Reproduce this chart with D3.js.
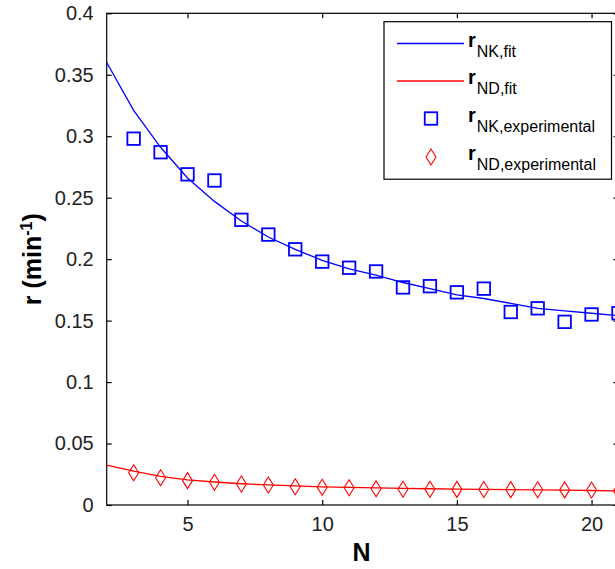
<!DOCTYPE html>
<html>
<head>
<meta charset="utf-8">
<script src="https://cdn.jsdelivr.net/npm/d3@7"></script>
<style>
  html, body { margin: 0; padding: 0; background: #fff; }
  svg { display: block; }
  text { font-family: "Liberation Sans", Arial, sans-serif; }
</style>
</head>
<body>
<svg id="chart" width="615" height="569"></svg>
<script>
// ---- data ----
const fitN = [2,3,4,5,6,7,8,9,10,11,12,13,14,15,16,17,18,19,20,21];
const nkFit = [0.360,0.321,0.291,0.266,0.247,0.231,0.218,0.208,0.199,0.192,0.187,0.181,0.176,0.171,0.168,0.164,0.160,0.158,0.156,0.154];
const ndFit = [0.0325,0.0275,0.0232,0.0205,0.0187,0.0173,0.0163,0.0155,0.0148,0.0143,0.0139,0.0135,0.0132,0.0129,0.0127,0.0125,0.0123,0.0121,0.0118,0.0115];
const expN = [3,4,5,6,7,8,9,10,11,12,13,14,15,16,17,18,19,20,21];
const nkExp = [0.298,0.287,0.269,0.264,0.232,0.220,0.208,0.198,0.193,0.190,0.177,0.178,0.173,0.176,0.157,0.160,0.149,0.155,0.156];
const ndExp = [0.0263,0.0222,0.0198,0.0185,0.0171,0.0163,0.0149,0.0144,0.0141,0.0132,0.0128,0.0128,0.0127,0.0126,0.0125,0.0124,0.0123,0.0122,0.0115];
const xTicks = [5,10,15,20];
const yTicks = [0,0.05,0.1,0.15,0.2,0.25,0.3,0.35,0.4];
const yTickLabels = ["0","0.05","0.1","0.15","0.2","0.25","0.3","0.35","0.4"];
const legendLabels = [
  {main:"r", sub:"NK,fit", type:"line", color:"#0000ff"},
  {main:"r", sub:"ND,fit", type:"line", color:"#ff0000"},
  {main:"r", sub:"NK,experimental", type:"square", color:"#0000ff"},
  {main:"r", sub:"ND,experimental", type:"diamond", color:"#ff0000"}
];

// ---- layout ----
const L = 106.7, R = 618.5, T = 13.3, B = 505;
const svg = d3.select("#chart");
const x = d3.scaleLinear().domain([2,21]).range([L,R]);
const y = d3.scaleLinear().domain([0,0.4]).range([B,T]);

// frame
svg.append("rect").attr("x",L).attr("y",T).attr("width",R-L).attr("height",B-T)
  .attr("fill","#fff").attr("stroke","#000").attr("stroke-width",1.2);

// axes (inward ticks)
const fmtY = d => yTickLabels[yTicks.indexOf(d)];
const axStyle = g => {
  g.select(".domain").remove();
  g.selectAll("line").attr("stroke","#000").attr("stroke-width",1.2);
  g.selectAll("text").attr("font-size","20px").attr("fill","#222").attr("font-family","'Liberation Sans', Arial, sans-serif");
};
svg.append("g").attr("transform",`translate(${L},0)`)
  .call(d3.axisLeft(y).tickValues(yTicks).tickFormat(fmtY).tickSizeInner(-5).tickSizeOuter(0).tickPadding(13))
  .call(axStyle);
svg.append("g").attr("transform",`translate(${R},0)`)
  .call(d3.axisRight(y).tickValues(yTicks).tickFormat("").tickSizeInner(-5).tickSizeOuter(0))
  .call(axStyle);
svg.append("g").attr("transform",`translate(0,${B})`)
  .call(d3.axisBottom(x).tickValues(xTicks).tickFormat(d3.format("d")).tickSizeInner(-5).tickSizeOuter(0).tickPadding(12))
  .call(axStyle);
svg.append("g").attr("transform",`translate(0,${T})`)
  .call(d3.axisTop(x).tickValues(xTicks).tickFormat("").tickSizeInner(-5).tickSizeOuter(0))
  .call(axStyle);

// axis labels
svg.append("text").attr("x",(L+R)/2 - 1).attr("y",561).attr("text-anchor","middle")
  .attr("font-size","25px").attr("font-weight","bold").text("N");
const yl = svg.append("text").attr("transform",`translate(41,${(T+B)/2}) rotate(-90)`)
  .attr("text-anchor","middle").attr("font-size","25px").attr("font-weight","bold");
yl.append("tspan").text("r (min");
yl.append("tspan").attr("dy",-9).attr("font-size","16px").text("-1");
yl.append("tspan").attr("dy",9).text(")");

// plot content
const plot = svg.append("g");
const line = d3.line().x((d,i)=>x(fitN[i])).y(d=>y(d));
plot.append("path").datum(nkFit).attr("d",line).attr("fill","none").attr("stroke","#0000ff").attr("stroke-width",1.3);
plot.append("path").datum(ndFit).attr("d",line).attr("fill","none").attr("stroke","#ff0000").attr("stroke-width",1.3);

const sq = 12.5;
plot.selectAll(".sq").data(nkExp).enter().append("rect")
  .attr("x",(d,i)=>x(expN[i])-sq/2).attr("y",d=>y(d)-sq/2)
  .attr("width",sq).attr("height",sq).attr("fill","none").attr("stroke","#0000ff").attr("stroke-width",1.8);
const diamond = (cx,cy) => `M${cx},${cy-8}L${cx+5},${cy}L${cx},${cy+8}L${cx-5},${cy}Z`;
plot.selectAll(".dm").data(ndExp).enter().append("path")
  .attr("d",(d,i)=>diamond(x(expN[i]),y(d))).attr("fill","none").attr("stroke","#ff0000").attr("stroke-width",1.1);

// legend
const lg = svg.append("g");
lg.append("rect").attr("x",384).attr("y",21.7).attr("width",227.5).attr("height",157.5)
  .attr("fill","#fff").attr("stroke","#000").attr("stroke-width",1.2);
const rowY = [43.5,81,118.5,157];
legendLabels.forEach((d,i)=>{
  const cy = rowY[i];
  if (d.type==="line") {
    lg.append("line").attr("x1",397).attr("x2",464).attr("y1",cy).attr("y2",cy)
      .attr("stroke",d.color).attr("stroke-width",1.3);
  } else if (d.type==="square") {
    lg.append("rect").attr("x",431-sq/2).attr("y",cy-sq/2).attr("width",sq).attr("height",sq)
      .attr("fill","none").attr("stroke",d.color).attr("stroke-width",1.8);
  } else {
    lg.append("path").attr("d",diamond(431,cy)).attr("fill","none").attr("stroke",d.color).attr("stroke-width",1.1);
  }
  const t = lg.append("text").attr("x",468).attr("y",cy+3).attr("font-size","20px").attr("fill","#000");
  t.append("tspan").attr("font-weight","bold").text(d.main);
  t.append("tspan").attr("dy",10).attr("dx",1).attr("font-size","16px").text(d.sub);
});
</script>
</body>
</html>
